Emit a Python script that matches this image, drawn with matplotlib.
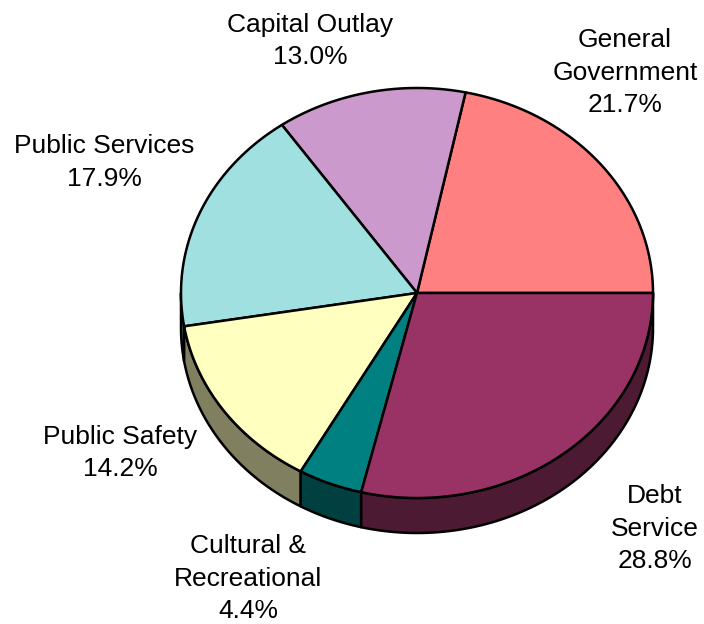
import numpy as np
import matplotlib
matplotlib.use("Agg")
import matplotlib.pyplot as plt
from matplotlib.patches import Polygon

# Budget shares, listed counter-clockwise from the 3 o'clock position
categories = ["General\nGovernment", "Capital Outlay", "Public Services",
              "Public Safety", "Cultural &\nRecreational", "Debt\nService"]
shares = [21.7, 13.0, 17.9, 14.2, 4.4, 28.8]

# Fill colours for the top face and the darker rim of each slice
top_colors = ["#FF8080", "#CC99CC", "#A0E0E0", "#FFFFC0", "#008080", "#993366"]
rim_colors = ["#804040", "#664C66", "#507070", "#808060", "#004040", "#4D1A33"]

# Label anchors: centre x and baseline y of the first line (pixels)
label_pos = [(625, 47), (310, 32), (104, 153), (120, 444), (248, 553), (655, 503)]
line_pitch = 32.5

# Ellipse geometry of the tilted pie, in pixel units
cx, cy = 417.0, 293.0
rx, ry = 236.0, 205.0
depth = 35.0

fig = plt.figure(figsize=(7.04, 6.24), dpi=100)
ax = fig.add_axes([0, 0, 1, 1])
ax.set_xlim(0, 704)
ax.set_ylim(624, 0)
ax.axis("off")


def rim_point(theta_deg, drop=0.0):
    t = np.radians(theta_deg)
    return cx + rx * np.cos(t), cy - ry * np.sin(t) + drop


def arc(t1, t2, drop=0.0, n=None):
    if n is None:
        n = max(int(abs(t2 - t1) * 2) + 2, 3)
    ts = np.linspace(t1, t2, n)
    return [rim_point(t, drop) for t in ts]


fractions = np.array(shares) / np.sum(shares)
edges = np.concatenate([[0.0], np.cumsum(fractions) * 360.0])

lw = 1.8

# Visible rim (front half of the cylinder: 180..360 degrees)
for i in range(len(shares)):
    s1, s2 = max(edges[i], 180.0), min(edges[i + 1], 360.0)
    if s2 <= s1:
        continue
    pts = arc(s1, s2) + arc(s2, s1, drop=depth)
    ax.add_patch(Polygon(pts, closed=True, facecolor=rim_colors[i],
                         edgecolor="black", linewidth=lw, joinstyle="round",
                         zorder=1))

# Top faces of the slices
for i in range(len(shares)):
    pts = [(cx, cy)] + arc(edges[i], edges[i + 1])
    ax.add_patch(Polygon(pts, closed=True, facecolor=top_colors[i],
                         edgecolor="black", linewidth=lw, joinstyle="round",
                         zorder=2))

# Category labels with percentages
for i, name in enumerate(categories):
    lines = name.split("\n") + [f"{shares[i]:.1f}%"]
    x0, y0 = label_pos[i]
    for k, line in enumerate(lines):
        ax.text(x0, y0 + k * line_pitch, line, ha="center", va="baseline",
                fontsize=19, family="Liberation Sans", color="black")

fig.savefig("out.png", dpi=100)
